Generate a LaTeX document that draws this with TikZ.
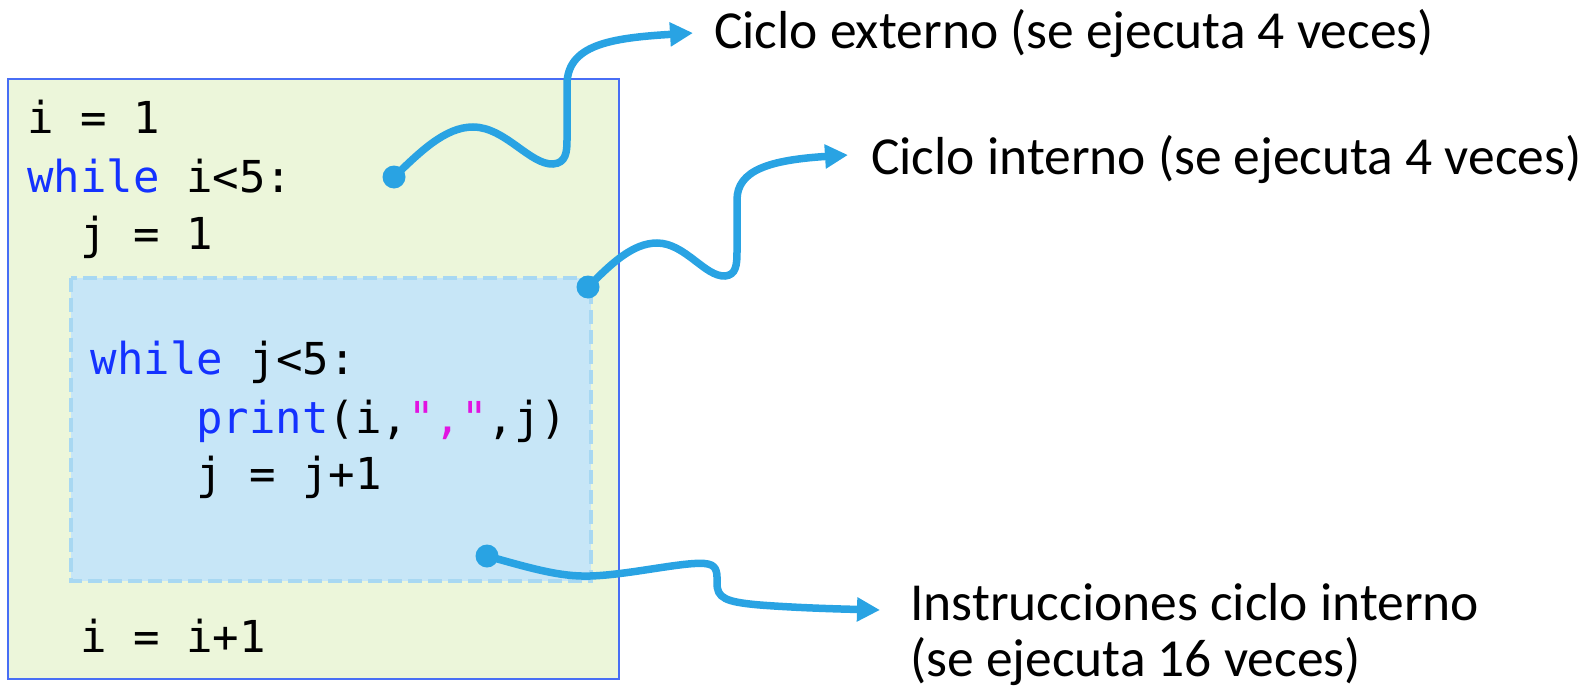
\documentclass[tikz,border=0pt]{standalone}
\usepackage{fontspec}
\setmainfont{Carlito}
\newfontfamily\codefont{DejaVu Sans Mono}
\usetikzlibrary{arrows.meta}
\definecolor{outerfill}{RGB}{236,246,218}
\definecolor{outerline}{RGB}{72,110,245}
\definecolor{innerfill}{RGB}{199,230,247}
\definecolor{innerline}{RGB}{168,216,242}
\definecolor{arrowc}{RGB}{41,163,227}
\definecolor{kw}{RGB}{20,50,255}
\definecolor{strc}{RGB}{225,20,225}
\begin{document}
\begin{tikzpicture}[x=1pt,y=-1pt,
 codetxt/.style={anchor=base west,inner sep=0,font=\codefont\fontsize{44}{50}\selectfont},
 lbl/.style={anchor=base west,inner sep=0,font=\fontsize{53.5}{62}\selectfont},
 conn/.style={draw=arrowc,line width=7.5pt,line cap=round,-{Triangle[length=23pt,width=23pt]}},
 enddot/.style={circle,fill=arrowc,inner sep=0,minimum size=23pt},
 outerbox/.style={fill=outerfill,draw=outerline,line width=2pt},
 innerbox/.style={fill=innerfill,draw=innerline,line width=4pt,dash pattern=on 14pt off 6pt}]
\useasboundingbox (0,0) rectangle (1590,688);
\path[outerbox] (7.5,78.5) rectangle (618.5,679);
\path[innerbox] (71,277.5) rectangle (591,580.5);
\node[codetxt] (c1) at (27,133) {i = 1};
\node[codetxt] (c2) at (27,192) {{\color{kw}while} i<5:};
\node[codetxt] (c3) at (80,249) {j = 1};
\node[codetxt] (c4) at (90.5,374) {{\color{kw}while} j<5:};
\node[codetxt] (c5) at (196,433) {{\color{kw}print}(i,{\color{strc}","},j)};
\node[codetxt] (c6) at (196,489) {j = j+1};
\node[codetxt] (c7) at (80,652) {i = i+1};
\node[lbl] (l1) at (714,48) {Ciclo externo (se ejecuta 4 veces)};
\node[lbl] (l2) at (871,174) {Ciclo interno (se ejecuta 4 veces)};
\node[lbl] (l3) at (910,620) {Instrucciones ciclo interno};
\node[lbl] (l4) at (910,676) {(se ejecuta 16 veces)};
\coordinate (t1) at (693,33);
\coordinate (t2) at (848,155);
\coordinate (t3) at (880,610);
\node[enddot] (d1) at (394,177) {};
\node[enddot] (d2) at (588,287) {};
\node[enddot] (d3) at (487,556) {};
\draw[conn] (d1.center) .. controls (420,152) and (445,127) .. (473,127)
  .. controls (505,127) and (530,165) .. (553,164)
  .. controls (566,163) and (567,152) .. (567,140) -- (567,85)
  .. controls (567,45) and (610,38) .. (t1);
\draw[conn] (d2.center) .. controls (610,265) and (632,243) .. (657,243)
  .. controls (685,243) and (705,277) .. (725,276)
  .. controls (736,275) and (737,265) .. (737,252) -- (737,200)
  .. controls (737,170) and (770,160) .. (t2);
\draw[conn] (d3.center) .. controls (530,568) and (560,577) .. (590,576)
  .. controls (630,575) and (690,560) .. (708,564)
  .. controls (718,566) and (717,575) .. (717,583)
  .. controls (717,598) and (725,602) .. (760,605)
  .. controls (800,608) and (840,609) .. (t3);
\end{tikzpicture}
\end{document}
